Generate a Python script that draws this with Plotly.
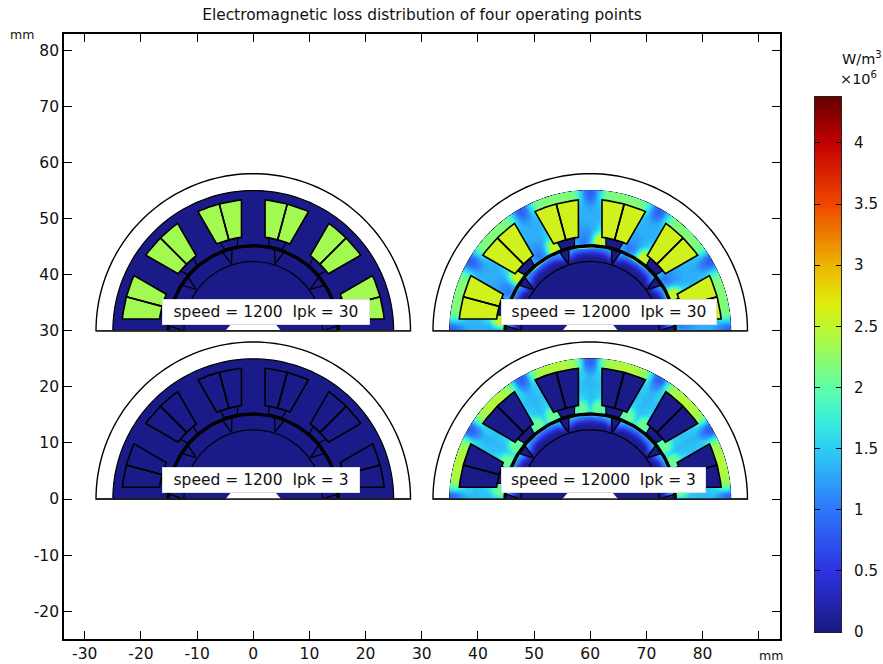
import math
import plotly.graph_objects as go
from plotly.colors import sample_colorscale

# ---------- values ----------
TITLE = "Electromagnetic loss distribution of four operating points"
X_TICKS = [-30, -20, -10, 0, 10, 20, 30, 40, 50, 60, 70, 80, 90]
Y_TICKS = [-20, -10, 0, 10, 20, 30, 40, 50, 60, 70, 80]
CBAR_TICKS = [0, 0.5, 1, 1.5, 2, 2.5, 3, 3.5, 4]
CBAR_LABELS = ["0", "0.5", "1", "1.5", "2", "2.5", "3", "3.5", "4"]
CMAX = 4.376

SPEEDS = [1200, 12000, 1200, 12000]
IPK = [30, 30, 3, 3]
COIL_LOSS = [2.35, 2.6, 0.03, 0.03]
IRON_LOSS = 0.03

# stator loss: rows = radius, columns = degrees from the tooth axis
STATOR_R = [15.4, 16.2, 17, 18, 20, 22, 23.4, 24.3, 25]
STATOR_PHI = [-15, -11, -7, -5, -3.5, -2, 0, 2, 3.5, 5, 7, 11]
STATOR_30A = [
    [2.0, 2.2, 2.4, 2.5, 2.2, 1.8, 1.4, 1.2, 1.1, 1.1, 1.2, 1.5],
    [2.1, 2.3, 2.6, 2.7, 2.3, 1.8, 1.3, 1.1, 1.0, 1.0, 1.1, 1.4],
    [2.0, 2.0, 2.3, 2.3, 1.9, 1.6, 1.25, 1.1, 1.1, 1.1, 1.2, 1.5],
    [1.5, 1.5, 1.6, 1.6, 1.45, 1.35, 1.25, 1.2, 1.2, 1.2, 1.3, 1.5],
    [1.35, 1.35, 1.35, 1.35, 1.35, 1.35, 1.35, 1.35, 1.35, 1.35, 1.35, 1.35],
    [1.3, 1.3, 1.4, 1.4, 1.35, 1.3, 1.25, 1.3, 1.35, 1.4, 1.4, 1.3],
    [2.2, 2.2, 2.05, 1.7, 1.4, 1.1, 0.95, 1.1, 1.4, 1.7, 2.05, 2.2],
    [2.2, 2.2, 2.1, 1.75, 1.4, 1.0, 0.8, 1.0, 1.4, 1.75, 2.1, 2.2],
    [2.2, 2.2, 2.1, 1.75, 1.4, 1.0, 0.8, 1.0, 1.4, 1.75, 2.1, 2.2],
]
STATOR_3A = [
    [1.9, 1.9, 1.9, 2.0, 2.0, 1.8, 1.7, 1.8, 2.0, 2.0, 1.9, 1.9],
    [2.0, 2.0, 2.0, 2.1, 2.1, 1.9, 1.6, 1.9, 2.1, 2.1, 2.0, 2.0],
    [2.0, 2.0, 2.0, 2.0, 1.9, 1.7, 1.5, 1.7, 1.9, 2.0, 2.0, 2.0],
    [1.5, 1.5, 1.5, 1.6, 1.5, 1.45, 1.4, 1.45, 1.5, 1.6, 1.5, 1.5],
    [1.4, 1.4, 1.4, 1.4, 1.4, 1.4, 1.4, 1.4, 1.4, 1.4, 1.4, 1.4],
    [1.4, 1.4, 1.5, 1.5, 1.5, 1.4, 1.3, 1.4, 1.5, 1.5, 1.5, 1.4],
    [2.4, 2.4, 2.3, 1.9, 1.5, 1.15, 1.0, 1.15, 1.5, 1.9, 2.3, 2.4],
    [2.4, 2.4, 2.3, 2.0, 1.55, 1.0, 0.8, 1.0, 1.55, 2.0, 2.3, 2.4],
    [2.4, 2.4, 2.3, 2.0, 1.5, 1.0, 0.8, 1.0, 1.5, 2.0, 2.3, 2.4],
]
# rotor magnet loss: rows = radius, columns = degrees from the magnet centre
ROTOR_R = [12.4, 13, 13.6, 14.2, 14.7, 14.95]
ROTOR_PSI = [-18, -14.5, -11, -6, 0, 6, 11, 14.5]
ROTOR_30A = [
    [0.05, 0.05, 0.05, 0.05, 0.05, 0.05, 0.05, 0.05],
    [0.1, 0.3, 0.1, 0.08, 0.08, 0.08, 0.1, 0.3],
    [0.1, 0.7, 0.4, 0.3, 0.28, 0.3, 0.4, 0.7],
    [0.1, 1.0, 0.85, 0.75, 0.7, 0.75, 0.85, 1.0],
    [0.1, 1.2, 1.1, 1.05, 1.1, 1.1, 1.1, 1.2],
    [0.1, 1.3, 1.5, 2.0, 3.2, 3.2, 1.8, 1.4],
]
ROTOR_3A = [
    [0.05, 0.05, 0.05, 0.05, 0.05, 0.05, 0.05, 0.05],
    [0.1, 0.3, 0.1, 0.08, 0.08, 0.08, 0.1, 0.3],
    [0.1, 0.7, 0.4, 0.3, 0.28, 0.3, 0.4, 0.7],
    [0.1, 1.05, 0.9, 0.8, 0.7, 0.8, 0.9, 1.05],
    [0.1, 1.3, 1.2, 1.1, 1.0, 1.1, 1.2, 1.3],
    [0.1, 1.5, 1.7, 1.8, 1.8, 1.8, 1.7, 1.5],
]
STATOR_FIELDS = [None, STATOR_30A, None, STATOR_3A]
ROTOR_FIELDS = [None, ROTOR_30A, None, ROTOR_3A]

# ---------- styling and machine layout ----------
CENTERS = [(0, 30), (60, 30), (0, 0), (60, 0)]
LABEL_SHIFT = [2.3, 3.3, 1.4, 2.4]
LABEL_WIDTH = [206, 214, 196, 203]
R_HOUSING, R_STATOR, R_COIL_OUT, R_COIL_IN = 28, 25, 23.4, 16.8
R_BORE, R_GAP, R_MAG_IN, TOOTH_HALF = 15.4, 15.15, 12.35, 2.1
FONT = "DejaVu Sans"
RAINBOW = [
    [0.0, "rgb(25,25,130)"], [0.114, "rgb(45,50,225)"], [0.229, "rgb(45,120,250)"],
    [0.343, "rgb(45,205,245)"], [0.40, "rgb(60,240,215)"], [0.457, "rgb(95,255,165)"],
    [0.571, "rgb(190,248,45)"], [0.617, "rgb(225,235,10)"], [0.686, "rgb(235,180,0)"],
    [0.80, "rgb(240,70,0)"], [0.914, "rgb(195,0,0)"], [1.0, "rgb(100,0,0)"],
]


def color_of(v):
    return sample_colorscale(RAINBOW, [v / CMAX])[0]


def polar(c, r, deg):
    a = math.radians(deg)
    return c[0] + r * math.cos(a), c[1] + r * math.sin(a)


def arc(c, r, a0, a1, step=2.0):
    n = max(2, int(abs(a1 - a0) / step) + 1)
    return [polar(c, r, a0 + (a1 - a0) * i / (n - 1)) for i in range(n)]


def chain(polys):
    xs, ys = [], []
    for p in polys:
        xs += [q[0] for q in p] + [p[0][0], None]
        ys += [q[1] for q in p] + [p[0][1], None]
    return xs, ys


def shape(xy, **kw):
    return go.Scatter(x=xy[0], y=xy[1], hoverinfo="skip", showlegend=False, **kw)


def under_layer(points, fill, width):
    # scatter traces always paint over contour traces, so fills under the fields are layout shapes
    path = "M" + " L".join(f"{x:.3f},{y:.3f}" for x, y in points) + " Z"
    fig.add_shape(type="path", path=path, xref="x", yref="y", layer="below",
                  fillcolor=fill, line=dict(color="black", width=width))


fig = go.Figure()


def add_field(idx, cid, radii, offsets, pitch, first, table):
    thetas, rows = [], []
    k = 0
    while first + k * pitch - 180 <= max(abs(o) for o in offsets):
        for j, o in enumerate(offsets):
            t = first + k * pitch + o
            if 0 <= t <= 180:
                thetas.append(t)
                rows.append([table[i][j] for i in range(len(radii))])
        k += 1
    order = sorted(range(len(thetas)), key=lambda i: thetas[i])
    thetas = [thetas[i] for i in order]
    rows = [rows[i] for i in order]
    c = CENTERS[idx]
    gx = [[polar(c, r, t)[0] for r in radii] for t in thetas]
    gy = [[polar(c, r, t)[1] for r in radii] for t in thetas]
    hidden = dict(showgrid=False, showline=False, showticklabels="none",
                  startline=False, endline=False, minorgridcount=0, smoothing=0)
    fig.add_trace(go.Carpet(carpet=cid, a=radii, b=thetas, x=gx, y=gy, aaxis=hidden, baxis=hidden))
    fig.add_trace(go.Contourcarpet(carpet=cid, a=radii, b=thetas, z=rows,
                                   colorscale=RAINBOW, zmin=0, zmax=CMAX, showscale=False,
                                   autocontour=False,
                                   contours=dict(start=0, end=CMAX, size=0.05, coloring="fill"),
                                   line=dict(width=0), showlegend=False))


for i, c in enumerate(CENTERS):
    # housing and iron
    under_layer(arc(c, R_HOUSING, 0, 180), "white", 1.4)
    under_layer(arc(c, R_STATOR, 0, 180), color_of(IRON_LOSS), 1.2)
    if STATOR_FIELDS[i] is not None:
        add_field(i, f"s{i}", STATOR_R, STATOR_PHI, 30, 0, STATOR_FIELDS[i])
        add_field(i, f"r{i}", ROTOR_R, ROTOR_PSI, 36, 18, ROTOR_FIELDS[i])
    # coils: two per slot, split on the slot axis
    coils, wedges, magnet_gaps = [], [], []
    for s in range(6):
        slot = 15 + 30 * s
        for side in (-1, 1):
            tooth = slot + 15 * side
            a_out = tooth - side * math.degrees(math.asin(TOOTH_HALF / R_COIL_OUT))
            a_in = tooth - side * math.degrees(math.asin(TOOTH_HALF / R_COIL_IN))
            coils.append(arc(c, R_COIL_OUT, slot, a_out) + arc(c, R_COIL_IN, a_in, slot))
        wedges.append([polar(c, R_COIL_IN, slot - 5.5), polar(c, R_COIL_IN, slot + 5.5),
                       polar(c, R_BORE, slot + 4.5), polar(c, R_BORE, slot - 4.5)])
    for g in range(6):
        gap = 36 * g
        pts = [polar(c, R_MAG_IN + 0.2, gap), polar(c, R_GAP, gap + 3.5), polar(c, R_GAP, gap - 3.5)]
        if g == 0:
            pts = [polar(c, R_MAG_IN, 0), polar(c, R_GAP, 0), polar(c, R_GAP, 3.5)]
        if g == 5:
            pts = [polar(c, R_MAG_IN, 180), polar(c, R_GAP, 180), polar(c, R_GAP, 176.5)]
        magnet_gaps.append(pts)
    navy = color_of(IRON_LOSS)
    fig.add_trace(shape(chain(magnet_gaps), mode="lines", fill="toself", fillcolor=navy,
                        line=dict(color="black", width=1.3)))
    fig.add_trace(shape(chain(wedges), mode="lines", fill="toself", fillcolor=navy,
                        line=dict(color="black", width=1.2)))
    fig.add_trace(shape(chain(coils), mode="lines", fill="toself", fillcolor=color_of(COIL_LOSS[i]),
                        line=dict(color="black", width=1.6)))
    # rotor core
    fig.add_trace(shape(chain([arc(c, R_MAG_IN, 0, 180)]), mode="lines", fill="toself", fillcolor=navy,
                        line=dict(color="black", width=1.2)))
    # air gap
    gap_line = arc(c, R_GAP, 0, 180)
    fig.add_trace(shape(([p[0] for p in gap_line], [p[1] for p in gap_line]), mode="lines",
                        line=dict(color="black", width=3.4)))
    # shaft opening
    fig.add_trace(shape(chain([[(c[0] - 4.9, c[1]), (c[0] + 4.9, c[1]), (c[0] + 3.9, c[1] + 1.2), (c[0] - 3.9, c[1] + 1.2)]]),
                        mode="lines", fill="toself", fillcolor="white", line=dict(color="white", width=0.5)))
    # base line
    fig.add_trace(shape(([c[0] - R_HOUSING, c[0] + R_HOUSING], [c[1], c[1]]), mode="lines",
                        line=dict(color="#222222", width=1.6)))
    fig.add_annotation(x=c[0] + LABEL_SHIFT[i], y=c[1] + 3.4, xref="x", yref="y", showarrow=False,
                       text=f"speed = {SPEEDS[i]}  Ipk = {IPK[i]}",
                       width=LABEL_WIDTH[i], height=24, align="center",
                       font=dict(family=FONT, size=15.5, color="#111111"),
                       bgcolor="white", borderpad=0, bordercolor="#dddddd", borderwidth=1)

# colour scale, drawn on its own axis so that ticks sit on both edges
L, R, T, B = 63.5, 780.0, 34.0, 639.0
RIGHT_EDGE = 841.0
SPAN = RIGHT_EDGE - L
BAR_X, BAR_TOP, BAR_BOT = 815.0, 97.0, 632.0
LEVELS = 256
bar_y = [CMAX * (k + 0.5) / LEVELS for k in range(LEVELS)]
fig.add_trace(go.Heatmap(x=[0, 1], y=bar_y, z=[[v, v] for v in bar_y], xaxis="x2", yaxis="y2",
                         colorscale=RAINBOW, zmin=0, zmax=CMAX, showscale=False, hoverinfo="skip"))

axis_style = dict(showline=True, linecolor="black", linewidth=1.6, mirror="ticks", ticks="inside",
                  ticklen=8, tickwidth=1.4, tickcolor="black", showgrid=False, zeroline=False,
                  tickfont=dict(family=FONT, size=15.5, color="#111111"))
fig.update_layout(
    width=883, height=664, margin=dict(l=L, r=883 - RIGHT_EDGE, t=T, b=664 - B, autoexpand=False),
    paper_bgcolor="white", plot_bgcolor="rgba(0,0,0,0)", showlegend=False,
    xaxis=dict(range=[-33.7, 93.8], domain=[0, (R - L) / SPAN], tickvals=X_TICKS,
               ticktext=[("" if v == 90 else str(v)) for v in X_TICKS], **axis_style),
    yaxis=dict(range=[-24.95, 82.9], tickvals=Y_TICKS, ticktext=[str(v) for v in Y_TICKS], **axis_style),
    xaxis2=dict(domain=[(BAR_X - L) / SPAN, 1], range=[0, 1], anchor="y2", showticklabels=False, ticks="",
                showgrid=False, zeroline=False, showline=True, linecolor="#222222", linewidth=1.2, mirror=True),
    yaxis2=dict(domain=[(B - BAR_BOT) / (B - T), (B - BAR_TOP) / (B - T)], range=[0, CMAX], anchor="x2",
                side="right", ticks="inside", ticklen=5, tickwidth=1.2, tickcolor="black",
                tickvals=CBAR_TICKS, ticktext=CBAR_LABELS, showgrid=False, zeroline=False,
                showline=True, linecolor="#222222", linewidth=1.2, mirror="ticks", ticklabelstandoff=9,
                tickfont=dict(family=FONT, size=15, color="#111111")),
    title=dict(text=TITLE, x=422 / 883, xanchor="center", y=1 - 15 / 664, yanchor="middle",
               font=dict(family=FONT, size=15.4, color="#111111")),
)


def page_note(xp, yp, text, size):
    fig.add_annotation(x=(xp - L) / SPAN, y=(B - yp) / (B - T), xref="paper", yref="paper", text=text,
                       showarrow=False, xanchor="center", yanchor="middle",
                       font=dict(family=FONT, size=size, color="#111111"))


page_note(21, 34, "mm", 12.5)
page_note(771, 655, "mm", 12.5)
page_note(862, 58, "W/m<sup>3</sup>", 14.5)
page_note(859, 78, "×10<sup>6</sup>", 14.5)

fig.write_html("out.html", post_script="document.body.style.margin='0';", config=dict(displayModeBar=False))
